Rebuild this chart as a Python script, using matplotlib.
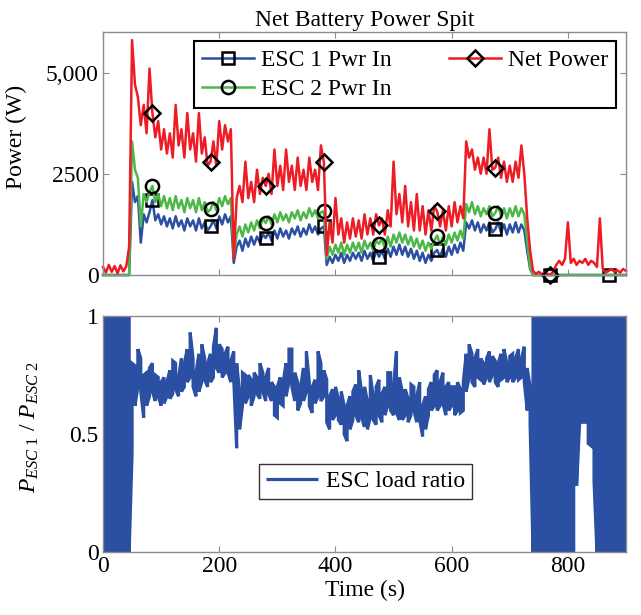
import numpy as np
import matplotlib
matplotlib.use("Agg")
import matplotlib.pyplot as plt

# ---- data (5 s samples, 0..900 s) ----
time_s = np.arange(0, 901, 5)

esc1_pwr = [
    0, 0, 0, 0, 0, 0, 0, 0, 0, 0,
    2300, 1800, 1950, 800, 1500, 1300, 1550, 1850, 1350, 1500,
    1250, 1450, 1200, 1400, 1150, 1450, 1200, 1350, 1100, 1400,
    1200, 1350, 1100, 1400, 1150, 1300, 1100, 1200, 1350, 1150,
    1450, 1250, 1500, 1300, 1450, 300, 700, 850, 600, 900,
    700, 950, 750, 950, 800, 1000, 915, 1050, 850, 1100,
    900, 1150, 950, 1100, 900, 1150, 1000, 1200, 950, 1150,
    1000, 1250, 1050, 1200, 1000, 1150, 1200, 250, 450, 300,
    500, 350, 550, 300, 500, 350, 550, 400, 550, 350,
    600, 400, 550, 350, 600, 450, 600, 400, 650, 450,
    700, 500, 750, 500, 700, 450, 650, 400, 600, 350,
    550, 300, 500, 350, 550, 617, 450, 650, 450, 700,
    500, 750, 550, 800, 600, 1300, 1150, 1350, 1100, 1300,
    1050, 1250, 1100, 1300, 1050, 1133, 1300, 1050, 1250, 1000,
    1250, 1050, 1300, 1050, 1250, 1100, 600, 150, 0, 0,
    0, 0, 0, 0, 0, 0, 0, 0, 0, 0,
    0, 0, 0, 0, 0, 0, 0, 0, 0, 0,
    0, 0, 0, 0, 0, 0, 0, 0, 0, 0,
    0,
]

esc2_pwr = [
    0, 0, 0, 0, 0, 0, 0, 0, 0, 0,
    3300, 2600, 2400, 1200, 2000, 1800, 2050, 2200, 1800, 2000,
    1700, 1950, 1650, 1900, 1600, 1950, 1650, 1850, 1550, 1900,
    1650, 1850, 1550, 1900, 1600, 1800, 1550, 1625, 1800, 1600,
    1900, 1700, 1950, 1750, 1900, 450, 1000, 1200, 950, 1250,
    1050, 1300, 1100, 1350, 1150, 1400, 1285, 1450, 1250, 1500,
    1300, 1550, 1350, 1500, 1300, 1550, 1400, 1600, 1350, 1550,
    1400, 1650, 1450, 1600, 1400, 1550, 1575, 400, 700, 500,
    750, 550, 800, 500, 750, 550, 800, 600, 800, 550,
    850, 650, 800, 600, 850, 770, 900, 650, 950, 700,
    1000, 800, 1050, 800, 1000, 750, 950, 700, 900, 650,
    850, 600, 800, 650, 850, 975, 750, 950, 750, 1000,
    800, 1050, 850, 1100, 900, 1750, 1550, 1800, 1500, 1700,
    1450, 1650, 1500, 1700, 1450, 1533, 1700, 1450, 1650, 1400,
    1650, 1450, 1700, 1450, 1650, 1500, 800, 200, 0, 0,
    0, 0, 0, 0, 0, 0, 0, 0, 0, 0,
    0, 0, 0, 0, 0, 0, 0, 0, 0, 0,
    0, 0, 0, 0, 0, 0, 0, 0, 0, 0,
    0,
]

net_pwr = [
    200, 60, 250, 80, 220, 40, 240, 90, 210, 700,
    5800, 4700, 4400, 3700, 4200, 3500, 5100, 4000, 3400, 3800,
    3100, 3600, 3000, 3500, 2900, 4200, 3200, 3600, 2900, 4000,
    3100, 3500, 2800, 4000, 3000, 3400, 2700, 2800, 3300, 2700,
    3800, 3100, 3700, 3300, 3600, 400, 1900, 2200, 1800, 2800,
    1900, 2300, 1800, 2600, 2000, 2400, 2200, 2500, 2000, 3100,
    2200, 2700, 2100, 3100, 2300, 2700, 2100, 2900, 2200, 2600,
    2100, 2900, 2300, 2600, 2100, 3200, 2800, 500, 1300, 800,
    1900, 1000, 1400, 800, 1300, 900, 1400, 950, 1350, 900,
    1500, 1000, 1400, 1000, 1500, 1225, 1400, 1000, 1600, 1200,
    2800, 1500, 2000, 1300, 2200, 1200, 1800, 1100, 2000, 1100,
    1700, 1000, 1600, 1100, 1700, 1575, 1200, 1600, 1100, 1700,
    1200, 1800, 1300, 1700, 1400, 3300, 2900, 3100, 2600, 2900,
    2500, 2900, 2500, 3600, 2600, 2650, 2900, 2400, 2800, 2300,
    2700, 2300, 2800, 2400, 3200, 2500, 1400, 600, 100, 30,
    80, 20, 60, 30, 0, 100, 250, 350, 250, 400,
    1300, 300, 400, 250, 350, 300, 400, 250, 350, 300,
    200, 1400, 150, 60, 100, 150, 80, 120, 60, 150,
    100,
]

# load ratio P_ESC1 / P_ESC2: min and max within each 5 s sample window
ratio_lo = [
    0, 0, 0, 0, 0, 0, 0, 0, 0, 0,
    0.42, 0.62, 0.70, 0.68, 0.57, 0.62, 0.66, 0.68, 0.64, 0.66,
    0.62, 0.63, 0.66, 0.65, 0.67, 0.69, 0.66, 0.68, 0.70, 0.72,
    0.74, 0.70, 0.66, 0.68, 0.72, 0.73, 0.70, 0.72, 0.74, 0.78,
    0.76, 0.74, 0.76, 0.76, 0.72, 0.73, 0.44, 0.52, 0.62, 0.63,
    0.66, 0.62, 0.66, 0.67, 0.65, 0.68, 0.64, 0.67, 0.64, 0.58,
    0.57, 0.63, 0.62, 0.66, 0.72, 0.70, 0.64, 0.60, 0.63, 0.64,
    0.68, 0.62, 0.59, 0.63, 0.66, 0.64, 0.66, 0.55, 0.52, 0.56,
    0.58, 0.56, 0.54, 0.50, 0.47, 0.52, 0.56, 0.58, 0.55, 0.57,
    0.53, 0.52, 0.57, 0.56, 0.54, 0.58, 0.55, 0.58, 0.62, 0.60,
    0.58, 0.59, 0.56, 0.56, 0.58, 0.55, 0.58, 0.60, 0.55, 0.56,
    0.49, 0.52, 0.58, 0.60, 0.62, 0.60, 0.62, 0.63, 0.58, 0.60,
    0.62, 0.58, 0.60, 0.59, 0.60, 0.68, 0.74, 0.72, 0.70, 0.74,
    0.73, 0.71, 0.74, 0.72, 0.75, 0.72, 0.70, 0.73, 0.74, 0.72,
    0.74, 0.72, 0.74, 0.73, 0.74, 0.72, 0.60, 0.54, 0, 0,
    0, 0, 0, 0, 0, 0, 0, 0, 0, 0,
    0, 0, 0, 0.28, 0.54, 0.55, 0.55, 0.46, 0.45, 0.30,
    0, 0, 0, 0, 0, 0, 0, 0, 0, 0,
    0,
]

ratio_hi = [
    1, 1, 1, 1, 1, 1, 1, 1, 1, 1,
    0.80, 0.79, 0.86, 0.82, 0.75, 0.76, 0.78, 0.80, 0.75, 0.74,
    0.72, 0.74, 0.72, 0.77, 0.81, 0.80, 0.74, 0.82, 0.80, 0.86,
    0.93, 0.82, 0.76, 0.84, 0.88, 0.82, 0.80, 0.84, 0.87, 0.95,
    0.88, 0.86, 0.84, 0.87, 0.81, 0.85, 0.80, 0.68, 0.76, 0.75,
    0.75, 0.73, 0.76, 0.74, 0.80, 0.76, 0.74, 0.78, 0.72, 0.70,
    0.70, 0.74, 0.72, 0.80, 0.86, 0.86, 0.76, 0.72, 0.70, 0.78,
    0.85, 0.72, 0.70, 0.73, 0.85, 0.80, 0.77, 0.73, 0.66, 0.69,
    0.70, 0.65, 0.68, 0.62, 0.62, 0.66, 0.68, 0.71, 0.77, 0.68,
    0.70, 0.64, 0.75, 0.66, 0.70, 0.73, 0.67, 0.70, 0.76, 0.76,
    0.70, 0.85, 0.74, 0.68, 0.69, 0.65, 0.71, 0.70, 0.66, 0.72,
    0.62, 0.66, 0.69, 0.72, 0.75, 0.77, 0.72, 0.76, 0.70, 0.72,
    0.70, 0.70, 0.72, 0.69, 0.72, 0.84, 0.88, 0.84, 0.82, 0.86,
    0.82, 0.80, 0.82, 0.85, 0.83, 0.81, 0.80, 0.84, 0.86, 0.80,
    0.83, 0.84, 0.82, 0.86, 0.82, 0.87, 0.78, 0.70, 1, 1,
    1, 1, 1, 1, 1, 1, 1, 1, 1, 1,
    1, 1, 1, 1, 1, 1, 1, 1, 1, 1,
    1, 1, 1, 1, 1, 1, 1, 1, 1, 1,
    1,
]

# sample indices that carry a marker
esc_marks = [17, 37, 56, 76, 95, 115, 135, 154, 174]
net_marks = [17, 37, 56, 76, 95, 115, 135, 154]

power_ticks = [0, 2500, 5000]
power_ticklabels = ["0", "2500", "5,000"]
time_ticks = [0, 200, 400, 600, 800]
ratio_ticks = [0, 0.5, 1]
ratio_ticklabels = ["0", "0.5", "1"]

# ---- style ----
plt.rcParams["font.family"] = ["Liberation Serif", "DejaVu Serif"]
plt.rcParams["font.size"] = 17
plt.rcParams["mathtext.fontset"] = "custom"
plt.rcParams["mathtext.rm"] = "Liberation Serif"
plt.rcParams["mathtext.it"] = "Liberation Serif:italic"

BLUE = "#2b4fa2"
GREEN = "#4db848"
RED = "#ee1c25"
FRAME = "#8c8c8c"

fig = plt.figure(figsize=(6.41, 6.15), dpi=100)
ax1 = fig.add_axes([0.1607, 0.5528, 0.8159, 0.3951])
ax2 = fig.add_axes([0.1607, 0.1024, 0.8159, 0.3837])

mk = dict(mfc="none", mec="black", mew=1.8, clip_on=False)
ax1.plot(time_s, esc1_pwr, color=BLUE, lw=1.8, marker="s", ms=9,
         markevery=esc_marks, label="ESC 1 Pwr In", **mk)
ax1.plot(time_s, esc2_pwr, color=GREEN, lw=1.8, marker="o", ms=9.5,
         markevery=net_marks, label="ESC 2 Pwr In", **mk)
ax1.plot(time_s, net_pwr, color=RED, lw=1.8, marker="D", ms=8.5,
         markevery=net_marks, label="Net Power", **mk)

ax1.set_xlim(0, 900)
ax1.set_ylim(0, 6000)
ax1.set_xticks(time_ticks)
ax1.set_xticklabels([])
ax1.set_yticks(power_ticks)
ax1.set_yticklabels(power_ticklabels)
ax1.set_ylabel("Power (W)")
ax1.yaxis.set_label_coords(-0.145, 0.57)
ax1.set_title("Net Battery Power Spit", fontsize=17, pad=4)

leg1 = ax1.legend(ncol=2, loc="upper right", bbox_to_anchor=(0.981, 0.962),
                  frameon=True, fancybox=False, handlelength=2.2,
                  handletextpad=0.3, columnspacing=2.4, labelspacing=0.32,
                  borderpad=0.35, borderaxespad=0.0, numpoints=1)
leg1.get_frame().set_edgecolor("black")
leg1.get_frame().set_linewidth(1.5)
leg1.get_frame().set_alpha(1)

# ratio drawn as a dense trace sweeping each window's min/max
t_arr = np.asarray(time_s, dtype=float)
lo = np.asarray(ratio_lo)
hi = np.asarray(ratio_hi)
even = (np.arange(len(t_arr)) % 2) == 0
trace_y = np.empty(2 * len(t_arr))
trace_y[0::2] = np.where(even, lo, hi)
trace_y[1::2] = np.where(even, hi, lo)
trace_x = np.repeat(t_arr, 2)
ax2.plot(trace_x, trace_y, color=BLUE, lw=2.3, solid_joinstyle="miter",
         solid_capstyle="butt", label="ESC load ratio")

ax2.set_xlim(0, 900)
ax2.set_ylim(0, 1)
ax2.set_xticks(time_ticks)
ax2.set_yticks(ratio_ticks)
ax2.set_yticklabels(ratio_ticklabels)
ax2.set_xlabel("Time (s)", labelpad=2)
ax2.set_ylabel(r"$P_{ESC\ 1}\ /\ P_{ESC\ 2}$")
ax2.yaxis.set_label_coords(-0.119, 0.53)

leg2 = ax2.legend(loc="center", bbox_to_anchor=(0.502, 0.299), frameon=True,
                  fancybox=False, handlelength=2.2, handletextpad=0.3,
                  borderpad=0.3)
leg2.get_frame().set_edgecolor("#333333")
leg2.get_frame().set_linewidth(1.0)
leg2.get_frame().set_alpha(1)

for ax in (ax1, ax2):
    for sp in ax.spines.values():
        sp.set_color(FRAME)
        sp.set_linewidth(1.0)
    ax.tick_params(direction="in", top=True, right=True, length=4,
                   width=0.8, color=FRAME, labelsize=17, pad=3)

fig.savefig("out.png", dpi=100)
